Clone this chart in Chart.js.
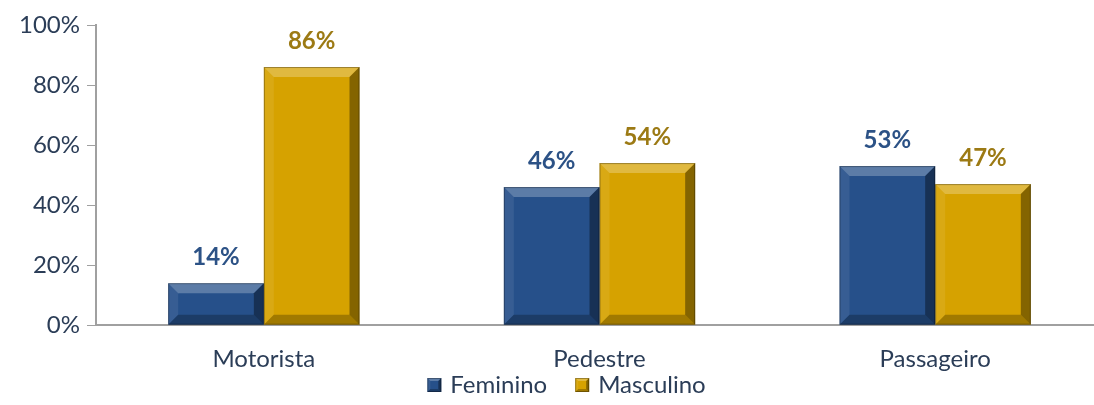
<!DOCTYPE html>
<html>
<head>
<meta charset="utf-8">
<script src="https://cdn.jsdelivr.net/npm/chart.js@4.4.1/dist/chart.umd.min.js"></script>
<style>
  html, body { margin: 0; padding: 0; background: #fff; overflow: hidden; }
  #wrap { width: 1103px; height: 405px; }
</style>
</head>
<body>
<div id="wrap"><canvas id="chart"></canvas></div>
<script>
// data
var categories = ['Motorista', 'Pedestre', 'Passageiro'];
var feminino = [14, 46, 53];
var masculino = [86, 54, 47];
var yTicks = [0, 20, 40, 60, 80, 100];

var blue = '#26508a';
var gold = '#d6a200';
var inkColor = '#2b3d57';

function bevelRect(ctx, l, t, r, b, s) {
    function quad(pts, fill) {
        ctx.beginPath();
        ctx.moveTo(pts[0][0], pts[0][1]);
        for (var k = 1; k < pts.length; k++) ctx.lineTo(pts[k][0], pts[k][1]);
        ctx.closePath();
        ctx.fillStyle = fill;
        ctx.fill();
    }
    quad([[l, t], [r, t], [r - s, t + s], [l + s, t + s]], 'rgba(255,255,255,0.25)');
    quad([[l, t], [l + s, t + s], [l + s, b - s], [l, b]], 'rgba(255,255,255,0.08)');
    quad([[r, t], [r, b], [r - s, b - s], [r - s, t + s]], 'rgba(0,0,0,0.38)');
    quad([[l, b], [l + s, b - s], [r - s, b - s], [r, b]], 'rgba(0,0,0,0.25)');
    ctx.strokeStyle = 'rgba(0,0,0,0.3)';
    ctx.lineWidth = 1;
    ctx.strokeRect(l + 0.5, t + 0.5, r - l - 1, b - t - 1);
}

// little bevel on each bar, like the office chart
var bevelPlugin = {
    id: 'bevel',
    afterDatasetsDraw: function(chart) {
        var ctx = chart.ctx;
        ctx.save();
        chart.data.datasets.forEach(function(ds, i) {
            chart.getDatasetMeta(i).data.forEach(function(bar) {
                var s = Math.min(10, (bar.base - bar.y) / 2);
                bevelRect(ctx, bar.x - bar.width / 2, bar.y, bar.x + bar.width / 2, bar.base, s);
            });
        });
        ctx.restore();
    }
};

var valueLabels = {
    id: 'valueLabels',
    afterDatasetsDraw: function(chart) {
        var ctx = chart.ctx;
        ctx.save();
        ctx.font = 'bold 24px Lato';
        ctx.textAlign = 'center';
        ctx.textBaseline = 'middle';
        chart.data.datasets.forEach(function(ds, i) {
            ctx.fillStyle = i == 0 ? '#2c5286' : '#9c7a14';
            chart.getDatasetMeta(i).data.forEach(function(bar, j) {
                ctx.fillText(ds.data[j] + '%', bar.x, bar.y - 26);
            });
        });
        ctx.restore();
    }
};

// legend drawn by hand so the spacing matches
var legendPlugin = {
    id: 'myLegend',
    afterDraw: function(chart) {
        var ctx = chart.ctx;
        var y = 385, box = 14, gapBox = 9, gapItem = 28;
        ctx.save();
        ctx.font = '24px Lato';
        ctx.textBaseline = 'middle';
        var items = chart.data.datasets.map(function(ds) {
            return { text: ds.label, color: ds.backgroundColor, w: ctx.measureText(ds.label).width };
        });
        var total = 0;
        items.forEach(function(it, k) { total += box + gapBox + it.w + (k > 0 ? gapItem : 0); });
        var x = chart.width / 2 + 15 - total / 2;
        items.forEach(function(it) {
            ctx.fillStyle = it.color;
            ctx.fillRect(x, y - box / 2, box, box);
            bevelRect(ctx, x, y - box / 2, x + box, y + box / 2, 3);
            ctx.fillStyle = inkColor;
            ctx.fillText(it.text, x + box + gapBox, y);
            x += box + gapBox + it.w + gapItem;
        });
        ctx.restore();
    }
};

var ctx = document.getElementById('chart').getContext('2d');
var myChart = new Chart(ctx, {
    type: 'bar',
    data: {
        labels: categories,
        datasets: [
            { label: 'Feminino', data: feminino, backgroundColor: blue },
            { label: 'Masculino', data: masculino, backgroundColor: gold }
        ]
    },
    options: {
        responsive: true,
        maintainAspectRatio: false,
        animation: false,
        layout: { padding: { top: 25, right: 0, left: 0, bottom: 19 } },
        datasets: { bar: { categoryPercentage: 0.57, barPercentage: 1 } },
        plugins: {
            legend: { display: false },
            tooltip: { enabled: false }
        },
        scales: {
            x: {
                grid: { display: false },
                border: { color: '#a0a0a0', width: 2 },
                ticks: { color: inkColor, font: { family: 'Lato', size: 24 }, padding: 12 }
            },
            y: {
                min: 0, max: 100,
                afterBuildTicks: function(axis) {
                    axis.ticks = yTicks.map(function(v) { return { value: v }; });
                },
                afterFit: function(axis) { axis.width = 96; },
                grid: { drawOnChartArea: false, drawTicks: true, tickLength: 9, color: '#a0a0a0', width: 1 },
                border: { color: '#a0a0a0', width: 2 },
                ticks: {
                    color: inkColor, padding: 7,
                    font: { family: 'Lato', size: 24 },
                    callback: function(v) { return v + '%'; }
                }
            }
        }
    },
    plugins: [bevelPlugin, valueLabels, legendPlugin]
});
</script>
</body>
</html>
